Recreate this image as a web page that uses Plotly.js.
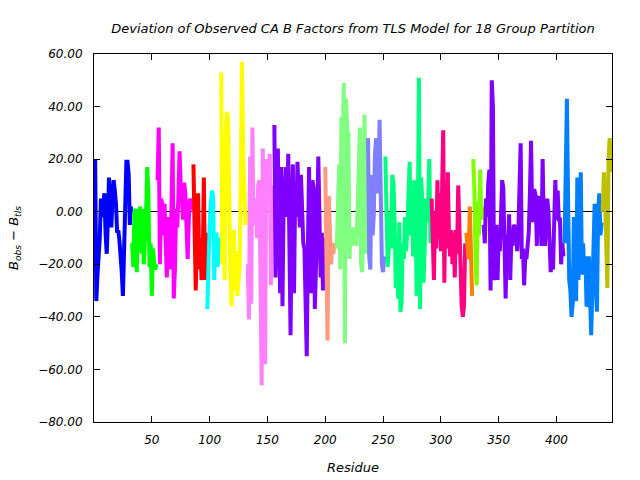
<!DOCTYPE html>
<html>
<head>
<meta charset="utf-8">
<script src="https://cdn.plot.ly/plotly-3.0.1.min.js"></script>
<style>html,body{margin:0;padding:0;background:#fff;}</style>
</head>
<body>
<div id="chart" style="width:640px;height:480px;"></div>
<script>
// First residue number of each TLS group
var groupStarts = [1, 33, 55, 86, 98, 110, 133, 156, 200, 210, 237, 252, 292, 322, 328, 337, 407, 440];

// B_obs - B_tls per residue, one array per group
var g1 = [20,-34,-24,-18,-10,5,-2,3,7,-8,-16,-3,13,2,-6,6,12,8,3,-8,-7,-11,-21,-23,-32,-10,8,19,19,14,-5,2];
var g2 = [-12,-21,0,1,-23,1,-2,2,-16,1,-20,-10,-2,17,8,-21,-12,-32,-14,-19,-22,-20];
var g3 = [12,32,-20,5,3,-9,3,-16,-25,-2,-5,-22,-2,26,-33,-22,1,-6,6,23,10,6,-3,11,7,-9,-18,-3,5,1,2];
var g4 = [18,-8,-30,-5,7,-22,-10,-26,-20,13,-26,-8];
var g5 = [-37,-15,-5,3,8,6,-26,-10,-8,-21,-10,-11];
var g6 = [53,-20,28,-26,31,38,35,0,-25,-36,-10,-7,-30,-15,-32,-26,-20,15,57,22,0,-5,0];
var g7 = [-20,-41,21,-35,32,-5,0,5,-10,10,12,-35,-66,24,-46,-58,20,18,5,22,-28,10,3];
var g8 = [33,-25,5,24,-5,-31,17,-36,3,6,17,-2,22,-9,-47,-4,18,-31,8,-2,19,5,-6,14,-7,-12,-14,-37,-55,-13,17,-19,-31,12,9,-37,-9,-5,21,3,-25,-8,-30,-10];
var g9 = [17,-36,-49,6,-12,-20,-14,-16,-12,-14];
var g10 = [-14,2,18,-22,36,20,49,-50,43,31,30,-18,-7,-13,-6,-12,-7,-13,5,15,32,-20,-23,4,37,-16,-7];
var g11 = [28,-17,-22,14,-9,-1,22,28,7,10,35,-2,-20,-23,-17];
var g12 = [21,-5,-21,-14,0,-14,14,11,-3,-29,-17,-33,-4,-38,-35,-12,-18,-2,-15,-6,3,19,-9,6,-17,12,8,-32,-7,51,-37,13,3,-27,-14,5,-4,4,20,-12];
var g13 = [5,-17,-26,0,-14,12,-10,7,-15,7,31,-27,5,-14,15,-9,-17,-7,-20,-8,-25,-7,-16,10,-9,-13,-36,-40,-36,-12];
var g14 = [-8,-14,-18,2,-22,-32];
var g15 = [20,8,-20,-28,4,-9,16,-3,2];
var g16 = [-5,-12,5,-2,11,16,-30,50,40,-26,-22,-5,-26,-10,-15,-3,12,9,-15,-33,-9,-16,-1,-26,-9,-13,-5,-6,-6,-15,-8,16,26,-18,-14,-28,-17,-18,-11,-8,7,27,-4,8,8,6,-13,6,-5,2,-13,20,-5,-13,-5,5,0,-13,-23,-17,-22,-4,12,-3,8,-3,-3,-20,-12,-17];
var g17 = [-12,22,43,5,-26,-30,-40,-35,-2,-28,-34,13,-26,-5,15,-24,-12,-24,-17,-36,-35,-17,-42,-47,-30,-17,3,-29,-38,0,7,-9,-4];
var g18 = [0,15,5,-13,-29,20,28,15];

var groupValues = [g1,g2,g3,g4,g5,g6,g7,g8,g9,g10,g11,g12,g13,g14,g15,g16,g17,g18];

var xTickVals = [50, 100, 150, 200, 250, 300, 350, 400];
var yTickVals = [-80, -60, -40, -20, 0, 20, 40, 60];

var groupColors = ['#0000ff','#00ff00','#ff00ff','#ff0000','#00ffff','#ffff00','#ff80ff','#8000ff',
                   '#ff9980','#80ff80','#8080ff','#00ff80','#ff0080','#ff8000','#80ff00','#8000ff',
                   '#0080ff','#bfbf00'];

var traces = groupValues.map(function (vals, gi) {
  var xs = vals.map(function (_, i) { return groupStarts[gi] + i; });
  return {
    type: 'scatter', mode: 'lines', x: xs, y: vals,
    line: {color: groupColors[gi], width: 4},
    hoverinfo: 'x+y', showlegend: false
  };
});

var fontBase = {family: 'DejaVu Sans, Verdana, sans-serif', size: 12, color: '#000', style: 'italic'};
var fontTitle = {family: 'DejaVu Sans, Verdana, sans-serif', size: 13, color: '#000', style: 'italic'};

var layout = {
  width: 640, height: 480,
  margin: {l: 94, r: 28, t: 54, b: 58},
  paper_bgcolor: '#fff', plot_bgcolor: '#fff',
  showlegend: false,
  font: fontBase,
  title: {
    text: 'Deviation of Observed CA B Factors from TLS Model for 18 Group Partition',
    font: fontTitle, x: 0.5, xref: 'paper', y: 1 - 28/480, yref: 'container', yanchor: 'middle'
  },
  xaxis: {
    range: [0, 448], tickvals: xTickVals, ticktext: xTickVals.map(String),
    ticks: 'inside', ticklen: 6, tickcolor: '#000', mirror: 'ticks',
    showline: true, linecolor: '#000', linewidth: 1,
    showgrid: false, zeroline: false,
    tickfont: fontBase, ticklabelstandoff: 7,
    title: {text: 'Residue', font: fontTitle, standoff: 16}
  },
  yaxis: {
    range: [-80, 60], tickvals: yTickVals, tickformat: '.2f',
    ticks: 'inside', ticklen: 6, tickcolor: '#000', mirror: 'ticks',
    showline: true, linecolor: '#000', linewidth: 1,
    showgrid: false, zeroline: true, zerolinecolor: '#000', zerolinewidth: 1,
    tickfont: fontBase, ticklabelstandoff: 8,
    title: {text: 'B<sub>obs</sub> − B<sub>tls</sub>', font: fontTitle, standoff: 16}
  }
};

Plotly.newPlot('chart', traces, layout, {displayModeBar: false, staticPlot: true});
</script>
</body>
</html>
